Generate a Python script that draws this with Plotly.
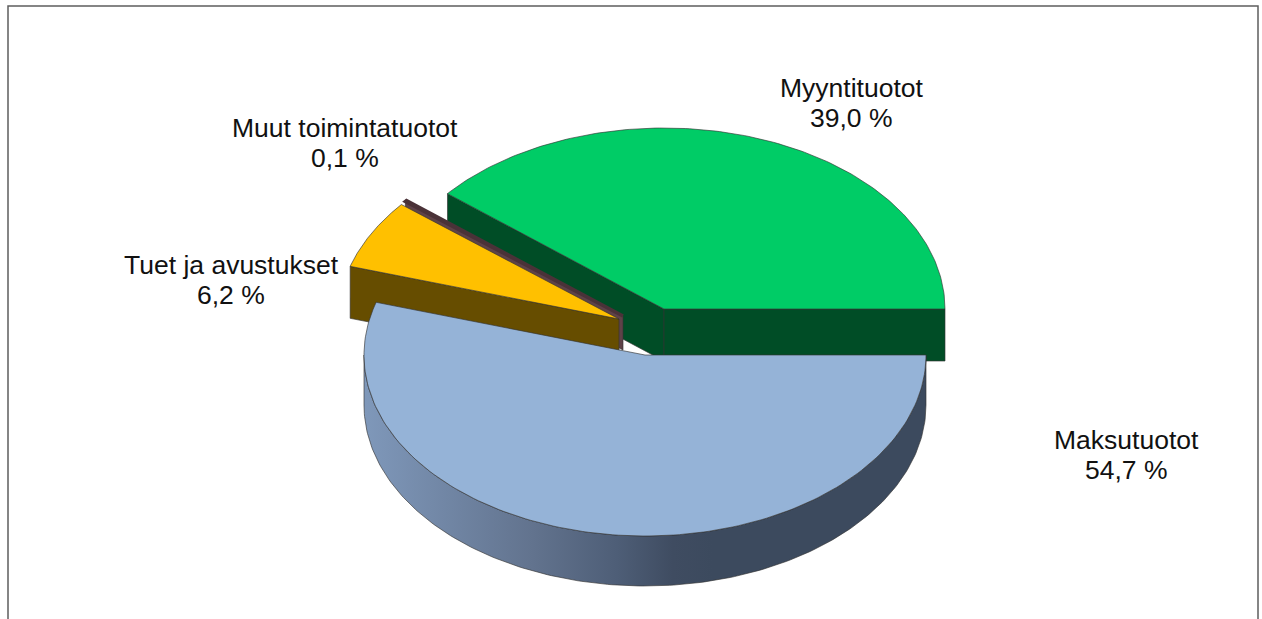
import numpy as np
import plotly.graph_objects as go

# data
categories = ["Maksutuotot", "Tuet ja avustukset", "Muut toimintatuotot", "Myyntituotot"]
values = [54.7, 6.2, 0.1, 39.0]

# style
top_colors = ["#95B3D7", "#FFC000", "#5E4248", "#00CC66"]
wall_colors = ["#3C4A5E", "#664D00", "#5E4248", "#004D26"]
centers = [(645, 355), (619, 319), (623, 316), (664, 309)]
RX, RY = 281, 181
DEPTHS = [50, 52, 34, 52]
EDGE = "rgba(50,50,50,0.8)"
FONT = "Liberation Sans"
FS = 26.5

fig = go.Figure()

# slice angles (degrees clockwise on screen, from east)
total = sum(values)
edges = np.cumsum([0] + [v / total * 360 for v in values])


def pt(c, a):
    r = np.radians(a)
    return c[0] + RX * np.cos(r), c[1] + RY * np.sin(r)


def poly(xs, ys, color, grad=None, edge=EDGE, width=0.8):
    kw = dict(x=list(xs), y=list(ys), mode="lines", fill="toself",
              line=dict(color=edge, width=width), hoverinfo="skip", showlegend=False)
    if grad:
        kw["fillgradient"] = dict(type="horizontal", colorscale=grad)
    else:
        kw["fillcolor"] = color
    fig.add_trace(go.Scatter(**kw))


def top(i, **kw):
    a0, a1 = edges[i], edges[i + 1]
    c = centers[i]
    arc = [pt(c, a) for a in np.linspace(a0, a1, 160)]
    xs = [c[0]] + [p[0] for p in arc] + [c[0]]
    ys = [c[1]] + [p[1] for p in arc] + [c[1]]
    poly(xs, ys, top_colors[i], **kw)


def radial_wall(i, a):
    c, d = centers[i], DEPTHS[i]
    x, y = pt(c, a)
    poly([c[0], x, x, c[0], c[0]], [c[1], y, y + d, c[1] + d, c[1]], wall_colors[i])


# Myyntituotot (rear, pulled out)
radial_wall(3, edges[3])
radial_wall(3, 360)
top(3)
# Muut toimintatuotot: a sliver, drawn as a thick band behind the next slice
radial_wall(2, edges[2])
top(2, edge="#4A3238", width=3.5)
# Tuet ja avustukset
radial_wall(1, edges[1])
top(1)
# Maksutuotot wall with gradient, then top
c0 = centers[0]
arc = [pt(c0, a) for a in np.linspace(0, 180, 200)]
xs = [p[0] for p in arc] + [p[0] for p in arc[::-1]] + [arc[0][0]]
ys = [p[1] + DEPTHS[0] for p in arc] + [p[1] for p in arc[::-1]] + [arc[0][1] + DEPTHS[0]]
poly(xs, ys, None, grad=[[0, "#7F98BA"], [0.3, "#62738E"], [0.45, "#4E5E77"],
                         [0.55, "#3F4C61"], [0.62, "#3C4A5E"], [1, "#3C4A5E"]])
top(0)

# labels
pct = {c: f"{v:.1f}".replace(".", ",") + " %" for c, v in zip(categories, values)}
label_pos = {
    "Myyntituotot": (851.5, 88),
    "Muut toimintatuotot": (344.5, 128),
    "Tuet ja avustukset": (231, 265),
    "Maksutuotot": (1126, 440),
}
for c, (x, y) in label_pos.items():
    for dy, t in ((0, c), (30, pct[c])):
        fig.add_annotation(x=x, y=y + dy, text=t, showarrow=False, xanchor="center", yanchor="middle",
                           font=dict(family=FONT, size=FS, color="#111111"))

# frame, open at the bottom
fig.add_shape(type="path", path="M 8 619 L 8 6 L 1258 6 L 1258 619",
              line=dict(color="#5E5E5E", width=1.5))

fig.update_layout(
    width=1262, height=619, margin=dict(l=0, r=0, t=0, b=0),
    paper_bgcolor="white", plot_bgcolor="white", showlegend=False,
    xaxis=dict(range=[0, 1262], visible=False, fixedrange=True),
    yaxis=dict(range=[619, 0], visible=False, fixedrange=True),
)
fig.write_html("out.html", config={"displayModeBar": False},
               post_script="document.body.style.margin='0';document.documentElement.style.overflow='hidden';")
